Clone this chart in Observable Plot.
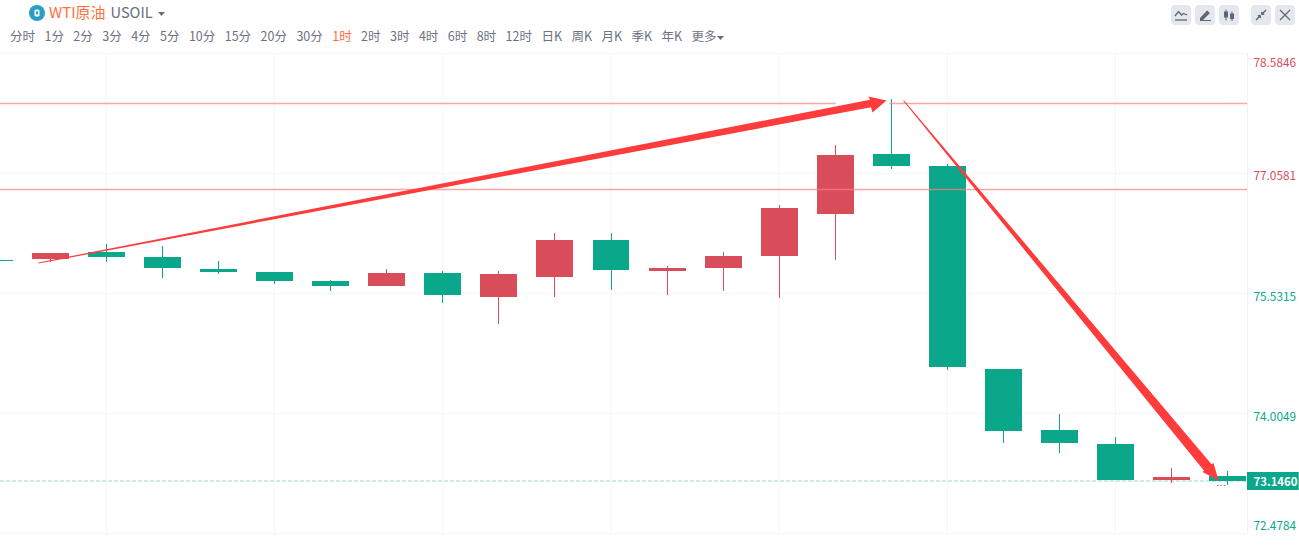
<!DOCTYPE html>
<html><head><meta charset="utf-8">
<script src="https://cdn.jsdelivr.net/npm/d3@7"></script>
<script src="https://cdn.jsdelivr.net/npm/@observablehq/plot@0.6"></script>
<style>
html,body{margin:0;padding:0;background:#fff;overflow:hidden}
body{width:1299px;height:551px;position:relative;font-family:"Noto Sans CJK SC","Noto Sans",sans-serif}
#head{position:relative;height:53px;width:1299px}
#name{position:absolute;left:49px;top:2px;font-size:15px;line-height:20px;color:#ff6f3d;white-space:nowrap}
#name span{color:#666e80;margin-left:5px;font-size:14.6px}
#logo{position:absolute;left:29px;top:5px}
#frames{position:absolute;left:10px;top:26px;display:flex;gap:9.45px;font-size:12.5px;line-height:20px;color:#6b7284;white-space:nowrap}
#frames .on{color:#ff6f3d}
.btn{position:absolute;top:5px;width:20px;height:20px;border-radius:4px;background:#e4e7ee}
#tab{position:absolute;left:1287px;top:203px}
#chart{position:absolute;left:0;top:53px}
</style></head><body>
<div id="head"></div>
<div id="chart"></div>
<script>
// price axis
const axisTop = [78.5846];
const axisUpper = [77.0581];
const axisLower = [75.5315, 74.0049];
const axisBottom = [72.4784];
const gridValues = [78.5846, 77.0581, 75.5315, 74.0049, 72.4784];
const gridCandles = [1, 4, 7, 10, 13, 16, 19];
const lastPrice = 73.146;
const resistance = [77.949, 76.854];

// hourly candles, index -1 is the partly visible one on the left edge
const index  = [-1, 0, 1, 2, 3, 4, 5, 6, 7, 8, 9, 10, 11, 12, 13, 14, 15, 16, 17, 18, 19, 20, 21];
const opens  = [75.951, 75.964, 76.053, 75.990, 75.837, 75.799, 75.684, 75.621, 75.786, 75.481, 75.735, 76.206, 75.811, 75.850, 76.002, 76.537, 77.300, 77.147, 74.565, 73.789, 73.611, 73.153, 73.204];
const closes = [75.939, 76.040, 75.990, 75.850, 75.799, 75.684, 75.621, 75.786, 75.506, 75.773, 76.206, 75.824, 75.850, 76.002, 76.613, 77.287, 77.147, 74.590, 73.776, 73.623, 73.153, 73.191, 73.146];
const highs  = [75.951, 76.040, 76.155, 76.129, 75.939, 75.799, 75.697, 75.837, 75.811, 75.811, 76.295, 76.295, 75.875, 76.053, 76.651, 77.414, 77.999, 77.173, 74.565, 73.992, 73.700, 73.305, 73.267];
const lows   = [75.939, 75.926, 75.926, 75.722, 75.773, 75.646, 75.557, 75.621, 75.404, 75.137, 75.481, 75.570, 75.506, 75.557, 75.468, 75.951, 77.109, 74.552, 73.623, 73.496, 73.153, 73.114, 73.089];

// hand drawn annotations, in chart units
const arrowUpX = [-0.223, 14.612, 14.585, 14.906, 14.656, 14.630, -0.223];
const arrowUpY = [75.926, 77.996, 78.037, 77.987, 77.834, 77.900, 75.913];
const arrowDownX = [15.217, 20.705, 20.741, 20.830, 20.544, 20.573, 15.203];
const arrowDownY = [77.991, 73.359, 73.375, 73.153, 73.261, 73.277, 77.983];

// toolbar
const symbolName = "WTI原油";
const symbolCode = "USOIL";
const frames = ["分时","1分","2分","3分","4分","5分","10分","15分","20分","30分","1时","2时","3时","4时","6时","8时","12时","日K","周K","月K","季K","年K","更多"];
const activeFrame = "1时";

const UP = "#d94c5a", DOWN = "#0aa78b", GRID = "#f5f6f9", GREY = "#666e80";

const head = document.getElementById("head");
head.innerHTML =
  `<svg id="logo" width="16" height="16" viewBox="0 0 16 16"><circle cx="8" cy="8" r="8" fill="#2a9fc5"/><rect x="5.5" y="4.5" width="5" height="7" rx="1.5" fill="#fff"/><rect x="7" y="6.5" width="2" height="3" fill="#2a9fc5"/></svg>` +
  `<div id="name">${symbolName}<span>${symbolCode}</span><svg width="7" height="4" style="margin-left:5px;vertical-align:2px"><path d="M0 0H7L3.5 4Z" fill="${GREY}"/></svg></div>` +
  `<div id="frames">` + frames.map(f => `<span class="${f === activeFrame ? "on" : ""}">${f}${f === "更多" ? '<svg width="7" height="4" style="margin-left:1px;vertical-align:1px"><path d="M0 0H7L3.5 4Z" fill="#666e80"/></svg>' : ""}</span>`).join("") + `</div>` +
  `<div class="btn" style="left:1171px"><svg width="20" height="20"><path d="M4 11L7.5 6.5L10.5 10L12.5 8.5L16 10" fill="none" stroke="#5f6675" stroke-width="1.3"/><path d="M4 15H16" stroke="#5f6675" stroke-width="1.3"/></svg></div>` +
  `<div class="btn" style="left:1195px"><svg width="20" height="20"><path d="M5 13L12 5.5L15 8L8 15H5Z" fill="#5f6675"/><path d="M5 15.5H16" stroke="#5f6675"/></svg></div>` +
  `<div class="btn" style="left:1219px"><svg width="20" height="20"><path d="M7 4.5V15.5M13 6.5V16" stroke="#5f6675"/><rect x="5" y="6.5" width="4" height="6" fill="#5f6675"/><rect x="11" y="8.5" width="4" height="5.5" fill="#5f6675"/></svg></div>` +
  `<div class="btn" style="left:1251px"><svg width="20" height="20"><path d="M5 15L9 11M15 5L11 9" stroke="#5f6675" stroke-width="1.4"/><path d="M7 10.5H9.5V13ZM13 9.5H10.5V7Z" fill="#5f6675" stroke="#5f6675"/></svg></div>` +
  `<div class="btn" style="left:1275px"><svg width="20" height="20"><path d="M5 5L15 15M15 5L5 15" stroke="#5f6675" stroke-width="1.2"/></svg></div>` +
  `<svg id="tab" width="12" height="60"><path d="M12 0L0 7V52L12 59Z" fill="#f0f1f4"/><path d="M9.5 24L5.5 29.5L9.5 35" fill="none" stroke="#5f6675" stroke-width="1.4"/></svg>`;

const candles = index.map((i, k) => ({i, open: opens[k], close: closes[k], high: highs[k], low: lows[k], up: closes[k] > opens[k]}));
const half = 0.33;
const colorOf = d => d.up ? UP : DOWN;
const poly = (xs, ys) => xs.map((x, k) => ({x, y: ys[k]}));
const axisOpts = {anchor: "right", tickSize: 0, tickPadding: 6, label: null, fontSize: 11.8, tickFormat: d => d.toFixed(4)};
const levelLine = {y: d => d, stroke: "#ff7f7f", strokeWidth: 1.4, strokeOpacity: 0.7};

const chart = Plot.plot({
  width: 1299, height: 498,
  marginTop: 0, marginBottom: 18, marginLeft: 0, marginRight: 52,
  style: {background: "#fff", fontFamily: '"Noto Sans CJK SC","Noto Sans",sans-serif', fontSize: "12px"},
  x: {domain: [-0.901, 21.347], axis: null},
  y: {domain: [72.4784, 78.5846]},
  marks: [
    Plot.ruleY(gridValues, {stroke: GRID, strokeWidth: 1}),
    Plot.ruleX(gridCandles, {stroke: GRID, strokeWidth: 1, dx: -0.5}),
    Plot.ruleX([21.347], {stroke: "#eff1f5", strokeWidth: 1}),
    Plot.ruleY([lastPrice], {stroke: "#a3d4c9", strokeWidth: 1, strokeDasharray: "4,2"}),
    Plot.ruleX(candles, {x: "i", y1: "low", y2: "high", stroke: colorOf, strokeWidth: 1, dx: -0.5, clip: true, shapeRendering: "crispEdges"}),
    Plot.rect(candles, {x1: d => d.i - half, x2: d => d.i + half, y1: "open", y2: "close", fill: colorOf, clip: true, shapeRendering: "crispEdges"}),
    Plot.ruleY([lows[22]], {x1: () => 20.81, x2: () => 20.99, stroke: "#888", strokeWidth: 1, strokeDasharray: "1.5,2"}),
    Plot.ruleY([resistance[0]], {...levelLine, x1: () => -0.901, x2: () => 14.01}),
    Plot.ruleY([resistance[0]], {...levelLine, x1: () => 14.96, x2: () => 21.347}),
    Plot.ruleY([resistance[1]], {...levelLine}),
    Plot.line(poly(arrowUpX, arrowUpY), {x: "x", y: "y", fill: "#ff3b3b", stroke: "none"}),
    Plot.line(poly(arrowDownX, arrowDownY), {x: "x", y: "y", fill: "#ff3b3b", stroke: "none"}),
    Plot.axisY(axisTop, {...axisOpts, fill: UP, dy: 10}),
    Plot.axisY(axisUpper, {...axisOpts, fill: UP, dy: 3}),
    Plot.axisY(axisLower, {...axisOpts, fill: DOWN, dy: 3.5}),
    Plot.axisY(axisBottom, {...axisOpts, fill: DOWN, dy: -7}),
    Plot.ruleY([lastPrice], {x1: () => 21.347, x2: () => 22.27, stroke: DOWN, strokeWidth: 18}),
    Plot.text([lastPrice], {x: () => 21.347, y: d => d, text: d => d.toFixed(4), fill: "#fff", fontWeight: 700, fontSize: 11.4, textAnchor: "start", dx: 6, dy: 1})
  ]
});
document.getElementById("chart").appendChild(chart);
</script>
</body></html>
